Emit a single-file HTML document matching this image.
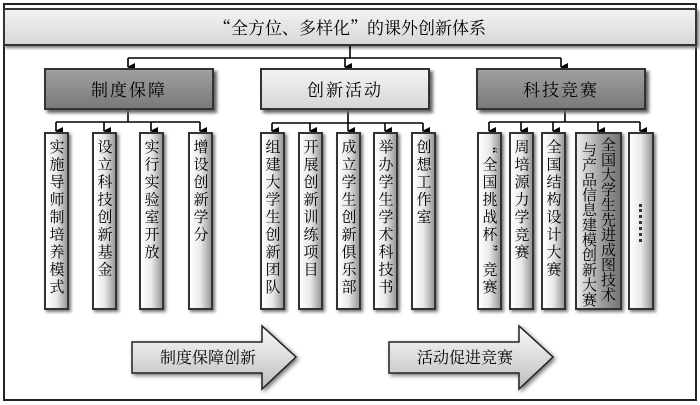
<!DOCTYPE html>
<html><head><meta charset="utf-8"><style>
body{margin:0;width:700px;height:405px;background:#fff;position:relative;overflow:hidden;font-family:"Noto Serif CJK SC","Liberation Serif",serif;}
.a{position:absolute;box-sizing:border-box}
.frame{left:3px;top:3px;width:694px;height:398px;border:2px solid #222}
.title{left:3px;top:8px;width:694px;height:38px;border:2px solid #333;background:linear-gradient(#f2f2f2,#d8d8d8);box-shadow:2px 2px 3px #777;font-size:17px;text-align:center;line-height:34px}
.h{height:42px;border:2px solid #333;box-shadow:3px 3px 3px #666;font-size:17px;text-align:center;line-height:38px;top:68px;width:170px;letter-spacing:2px}
.dark{background:linear-gradient(#a0a0a0,#7a7a7a)}
.light{background:linear-gradient(#f4f4f4,#d6d6d6)}
.c{top:132px;height:178px;border:2px solid #333;box-shadow:2px 2px 3px #777;background:linear-gradient(90deg,#fff 0%,#e8e8e8 50%,#999 100%);writing-mode:vertical-rl;font-size:15px;line-height:18px;letter-spacing:2.5px;padding-top:5px;text-align:left;display:flex;align-items:center}
.v{position:absolute;top:3px;writing-mode:vertical-rl;font-size:15px;line-height:18px;letter-spacing:0;width:18px;height:172px;white-space:nowrap}
svg{position:absolute;left:0;top:0}
</style></head><body>
<div class="a frame"></div>
<div class="a title">“全方位、多样化”的课外创新体系</div>

<svg width="700" height="405">
<defs><marker id="m" markerWidth="8" markerHeight="8" refX="4" refY="7" orient="auto-start-reverse" markerUnits="userSpaceOnUse"><path d="M0,0 L8,0 L4,8 z" fill="#000"/></marker>
<linearGradient id="ag" x1="0" y1="0" x2="0" y2="1"><stop offset="0" stop-color="#fafafa"/><stop offset="1" stop-color="#bdbdbd"/></linearGradient></defs>
<g stroke="#000" stroke-width="1.6" fill="none">
<line x1="350" y1="46" x2="350" y2="58"/>
<line x1="128" y1="58" x2="561" y2="58"/>
<line x1="128" y1="58" x2="128" y2="67" marker-end="url(#m)"/>
<line x1="345" y1="58" x2="345" y2="67" marker-end="url(#m)"/>
<line x1="561" y1="58" x2="561" y2="67" marker-end="url(#m)"/>
<line x1="128" y1="110" x2="128" y2="122"/>
<line x1="56" y1="122" x2="200" y2="122"/>
<line x1="56" y1="122" x2="56" y2="131" marker-end="url(#m)"/>
<line x1="104" y1="122" x2="104" y2="131" marker-end="url(#m)"/>
<line x1="151" y1="122" x2="151" y2="131" marker-end="url(#m)"/>
<line x1="200" y1="122" x2="200" y2="131" marker-end="url(#m)"/>
<line x1="348" y1="110" x2="348" y2="123"/>
<line x1="272" y1="123" x2="423" y2="123"/>
<line x1="272" y1="123" x2="272" y2="131" marker-end="url(#m)"/>
<line x1="310" y1="123" x2="310" y2="131" marker-end="url(#m)"/>
<line x1="348" y1="123" x2="348" y2="131" marker-end="url(#m)"/>
<line x1="385" y1="123" x2="385" y2="131" marker-end="url(#m)"/>
<line x1="423" y1="123" x2="423" y2="131" marker-end="url(#m)"/>
<line x1="565" y1="110" x2="565" y2="122"/>
<line x1="489" y1="122" x2="640" y2="122"/>
<line x1="489" y1="122" x2="489" y2="131" marker-end="url(#m)"/>
<line x1="521" y1="122" x2="521" y2="131" marker-end="url(#m)"/>
<line x1="553" y1="122" x2="553" y2="131" marker-end="url(#m)"/>
<line x1="598" y1="122" x2="598" y2="131" marker-end="url(#m)"/>
<line x1="640" y1="122" x2="640" y2="131" marker-end="url(#m)"/>
</g>
<g fill="url(#ag)" stroke="#222" stroke-width="1.5" style="filter:drop-shadow(2px 2px 2px #777)">
<path d="M132,342 L262,342 L262,326 L296,357 L262,389 L262,373 L132,373 Z"/>
<path d="M389,342 L519,342 L519,326 L553,357 L519,389 L519,373 L389,373 Z"/>
</g>
<text x="160" y="363" font-size="16" font-family="Noto Serif CJK SC,Liberation Serif,serif">制度保障创新</text>
<text x="417" y="363" font-size="16" font-family="Noto Serif CJK SC,Liberation Serif,serif">活动促进竞赛</text>
</svg>

<div class="a h dark" style="left:44px">制度保障</div>
<div class="a h light" style="left:260px">创新活动</div>
<div class="a h dark" style="left:476px">科技竞赛</div>

<div class="a c" style="left:44px;width:25px">实施导师制培养模式</div>
<div class="a c" style="left:92px;width:25px">设立科技创新基金</div>
<div class="a c" style="left:139px;width:25px">实行实验室开放</div>
<div class="a c" style="left:188px;width:25px">增设创新学分</div>

<div class="a c" style="left:260px;width:25px">组建大学生创新团队</div>
<div class="a c" style="left:298px;width:25px">开展创新训练项目</div>
<div class="a c" style="left:336px;width:25px">成立学生创新俱乐部</div>
<div class="a c" style="left:373px;width:25px">举办学生学术科技书</div>
<div class="a c" style="left:411px;width:25px">创想工作室</div>

<div class="a c" style="left:477px;width:25px">“全国挑战杯”竞赛</div>
<div class="a c" style="left:509px;width:25px">周培源力学竞赛</div>
<div class="a c" style="left:541px;width:25px">全国结构设计大赛</div>
<div class="a" style="left:575px;top:132px;width:47px;height:178px;border:2px solid #333;box-shadow:2px 2px 3px #777;background:linear-gradient(90deg,#eee,#999 60%,#777)">
<div class="v" style="left:22px">全国大学生先进成图技术</div>
<div class="v" style="left:3px;top:8px">与产品信息建模创新大赛</div>
</div>
<div class="a" style="left:628px;top:132px;width:26px;height:178px;border:2px solid #333;box-shadow:2px 2px 3px #777;background:linear-gradient(90deg,#fff 0%,#e8e8e8 50%,#999 100%)">
<div style="position:absolute;left:9px;top:70px;width:3px;height:38px;border-left:3px dotted #333"></div>
</div>
</body></html>
